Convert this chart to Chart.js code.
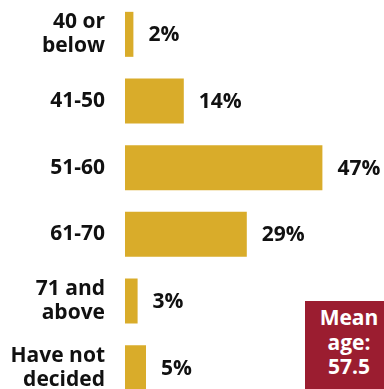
<!DOCTYPE html>
<html>
<head>
<meta charset="utf-8">
<script src="https://cdn.jsdelivr.net/npm/chart.js@4"></script>
<style>
  html, body { margin: 0; padding: 0; background: #fff; overflow: hidden; }
  #wrap { position: absolute; left: 0; top: 0; width: 384px; height: 401px; }
  #mean {
    position: absolute; left: 305px; top: 301px; width: 88px; height: 100px;
    background: #9b1d30; color: #fff; text-align: center;
    font: bold 21px 'Open Sans', sans-serif; line-height: 24.5px;
    padding-top: 4px; box-sizing: border-box;
  }
</style>
</head>
<body>
<div id="wrap"><canvas id="ageChart"></canvas></div>
<div id="mean">Mean<br>age:<br>57.5</div>
<script>
const ageGroups = [['40 or', 'below'], '41-50', '51-60', '61-70', ['71 and', 'above'], ['Have not', 'decided']];
const sharePct = [2, 14, 47, 29, 3, 5];

const barColor = '#d9ac2a';
const fontFamily = "'Open Sans', sans-serif";

// Draws "xx%" just past the end of each bar
const valueLabels = {
    id: 'valueLabels',
    afterDatasetsDraw(chart) {
        const ctx = chart.ctx;
        const meta = chart.getDatasetMeta(0);
        ctx.save();
        ctx.font = 'bold 21px ' + fontFamily;
        ctx.fillStyle = '#111';
        ctx.textAlign = 'left';
        ctx.textBaseline = 'middle';
        meta.data.forEach((bar, i) => {
            ctx.fillText(sharePct[i] + '%', bar.x + 15, bar.y + 1);
        });
        ctx.restore();
    }
};

new Chart(document.getElementById('ageChart'), {
    type: 'bar',
    data: {
        labels: ageGroups,
        datasets: [{
            data: sharePct,
            backgroundColor: barColor,
            borderWidth: 0,
            categoryPercentage: 1,
            barPercentage: 0.675
        }]
    },
    options: {
        indexAxis: 'y',
        responsive: true,
        maintainAspectRatio: false,
        animation: false,
        layout: { padding: { top: 1, right: 49, left: 0, bottom: 0 } },
        plugins: {
            legend: { display: false },
            tooltip: { enabled: false }
        },
        scales: {
            x: {
                display: false,
                min: 0,
                max: 50
            },
            y: {
                grid: { display: false, drawTicks: false },
                border: { display: false },
                afterFit: (scale) => {
                    scale.width = 125;
                    scale.paddingTop = 0;
                    scale.paddingBottom = 0;
                },
                ticks: {
                    autoSkip: false,
                    padding: 20,
                    color: '#111',
                    font: { family: fontFamily, size: 21, weight: 'bold', lineHeight: '24px' }
                }
            }
        }
    },
    plugins: [valueLabels]
});
</script>
</body>
</html>
